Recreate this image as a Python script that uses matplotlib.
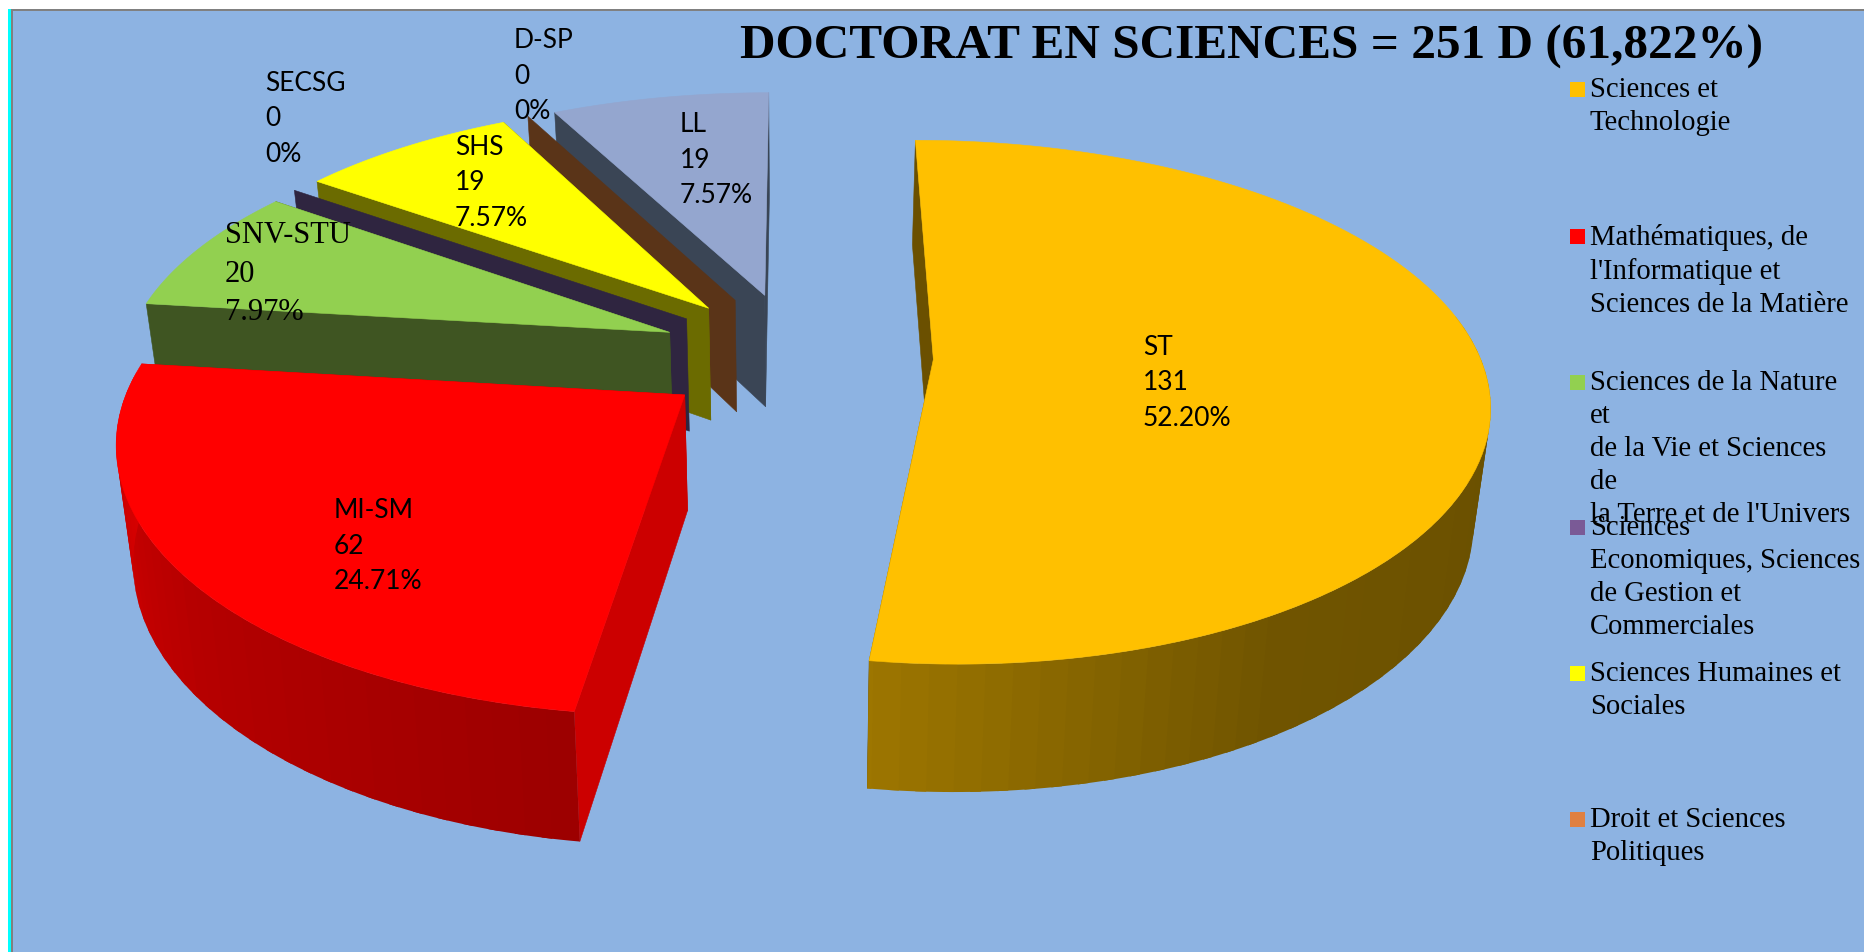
import matplotlib
matplotlib.use("Agg")
import matplotlib.pyplot as plt
import numpy as np
from matplotlib.patches import Polygon, Rectangle

labels = ["ST", "MI-SM", "SNV-STU", "SECSG", "SHS", "D-SP", "LL"]
values = [131, 62, 20, 0, 19, 0, 19]
percents = ["52.20%", "24.71%", "7.97%", "0%", "7.57%", "0%", "7.57%"]
top_colors = ["#FFC000", "#FF0000", "#92D050", "#7A5A96", "#FFFF00", "#E08040", "#94A6CF"]
wall_colors = ["#6B5000", "#CC0000", "#3F5522", "#2F2540", "#6B6B00", "#5A3418", "#3A4555"]
label_pos = [(1143, 383), (334, 546), (225, 274), (265, 119), (455, 183), (514, 76), (680, 160)]
label_fonts = ["Lato", "Lato", "Liberation Serif", "Lato", "Lato", "Lato", "Lato"]

legend_names = [
    "Sciences et\nTechnologie",
    "Mathématiques, de\nl'Informatique et\nSciences de la Matière",
    "Sciences de la Nature\net\nde la Vie et Sciences\nde\nla Terre et de l'Univers",
    "Sciences\nEconomiques, Sciences\nde Gestion et\nCommerciales",
    "Sciences Humaines et\nSociales",
    "Droit et Sciences\nPolitiques",
]
legend_colors = ["#FFC000", "#FF0000", "#92D050", "#7A5A96", "#FFFF00", "#E08040"]
legend_y = [89, 236, 382, 527, 673, 819]

title = "DOCTORAT EN SCIENCES = 251 D (61,822%)"

# perspective of the pie, in pixels
CX, CY = 796, 355
SCALE_X, SCALE_Y = 546, 253.5
PERSP_X, PERSP_Y = 0.15, 0.163
EXPLODE = 0.2515


def project(u, v):
    return CX + SCALE_X * u / (1 + PERSP_X * v), CY - SCALE_Y * v / (1 + PERSP_Y * v)


def drop(x, y):
    # bottom face of the pie, lines converge a little downwards
    return CX + (x - CX) * 0.975, y + 98 + 0.045 * y


def rim(start, end, mid, n=2):
    theta = np.radians(np.linspace(start, end, n))
    m = np.radians(mid)
    u = np.sin(theta) + EXPLODE * np.sin(m)
    v = np.cos(theta) + EXPLODE * np.cos(m)
    return project(u, v)


def shade(color, factor):
    rgb = np.array(matplotlib.colors.to_rgb(color))
    return tuple(rgb * factor)


def add_poly(ax, xs, ys, color, lw=0.4):
    ax.add_patch(Polygon(np.column_stack([xs, ys]), closed=True, facecolor=color,
                         edgecolor=color if lw > 0 else "none", linewidth=lw))


def draw_radial(ax, angle, mid, color):
    ax_, ay_ = project(EXPLODE * np.sin(np.radians(mid)), EXPLODE * np.cos(np.radians(mid)))
    rx, ry = rim(angle, angle, mid, 1)
    bx0, by0 = drop(ax_, ay_)
    bx1, by1 = drop(rx[0], ry[0])
    add_poly(ax, [ax_, rx[0], bx1, bx0], [ay_, ry[0], by1, by0], color)


fig = plt.figure(figsize=(18.65, 9.52), dpi=100, facecolor="white")
ax = fig.add_axes([0, 0, 1, 1])
ax.set_xlim(0, 1865)
ax.set_ylim(952, 0)
ax.axis("off")

ax.add_patch(Rectangle((8, 9), 4, 943, facecolor="#00FFFF", edgecolor="none"))
ax.add_patch(Rectangle((11, 9), 1854, 943, facecolor="#808080", edgecolor="none"))
ax.add_patch(Rectangle((13, 11), 1852, 941, facecolor="#8DB3E2", edgecolor="none"))

edges = np.concatenate([[0], np.cumsum(values)]) / np.sum(values) * 360

for i in [6, 5, 4, 3, 2, 1, 0]:
    start, end = edges[i], edges[i + 1]
    mid = (start + end) / 2
    draw_radial(ax, start, mid, wall_colors[i])
    if values[i] == 0:
        continue
    draw_radial(ax, end, mid, wall_colors[i])

    # outer wall, in strips that overlap so that no seams show
    a0, a1 = max(start, 80), min(end, 275)
    if a1 > a0:
        steps = np.arange(a0, a1, 2.5)
        for s0 in steps:
            s1 = min(s0 + 3.5, a1)
            x, y = rim(s0, s1, mid, 5)
            bx, by = drop(x, y)
            f = np.interp(s0 + 1.25, [90, 150, 187, 230, 277], [0.41, 0.44, 0.61, 0.71, 0.87])
            add_poly(ax, np.concatenate([x, bx[::-1]]), np.concatenate([y, by[::-1]]),
                     shade(top_colors[i], f), lw=0)

    x, y = rim(start, end, mid, 120)
    ax_, ay_ = project(EXPLODE * np.sin(np.radians(mid)), EXPLODE * np.cos(np.radians(mid)))
    add_poly(ax, np.concatenate([[ax_], x]), np.concatenate([[ay_], y]), top_colors[i])

for i in range(len(labels)):
    serif = label_fonts[i] == "Liberation Serif"
    ax.text(label_pos[i][0], label_pos[i][1], "{}\n{}\n{}".format(labels[i], values[i], percents[i]),
            family=label_fonts[i], fontsize=22 if serif else 19, color="black", ha="left", va="center",
            linespacing=1.42 if serif else 1.53)

ax.text(1251, 47, title, family="Liberation Serif", fontweight="bold", fontsize=35.5,
        color="black", ha="center", va="center")

for i in range(len(legend_names)):
    ax.add_patch(Rectangle((1570, legend_y[i] - 7.5), 15, 15, facecolor=legend_colors[i], edgecolor="none"))
    ax.text(1590, legend_y[i] - 12, legend_names[i], family="Liberation Serif", fontsize=20.6,
            color="black", ha="left", va="top", linespacing=1.344)

fig.savefig("out.png", dpi=100)
